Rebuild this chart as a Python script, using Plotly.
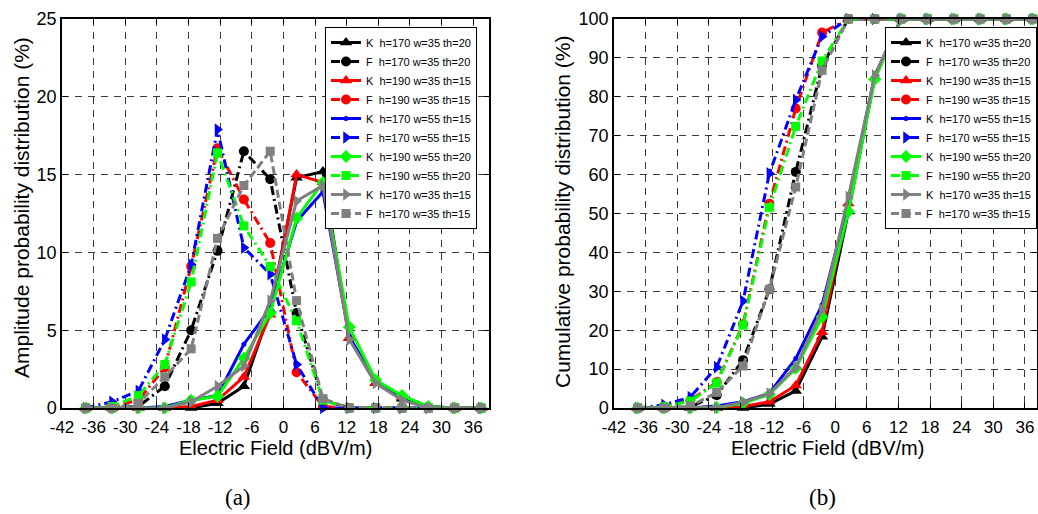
import plotly.graph_objects as go

# ---------------- data ----------------
field = [-37.5, -32.5, -27.5, -22.5, -17.5, -12.5, -7.5, -2.5,
         2.5, 7.5, 12.5, 17.5, 22.5, 27.5, 32.5, 37.5]

x_ticks = [-42, -36, -30, -24, -18, -12, -6, 0, 6, 12, 18, 24, 30, 36]
y_ticks_a = [0, 5, 10, 15, 20, 25]
y_ticks_b = [0, 10, 20, 30, 40, 50, 60, 70, 80, 90, 100]

names = ["K\u00a0\u00a0h=170 w=35 th=20", "F\u00a0\u00a0h=170 w=35 th=20",
         "K\u00a0\u00a0h=190 w=35 th=15", "F\u00a0\u00a0h=190 w=35 th=15",
         "K\u00a0\u00a0h=170 w=55 th=15", "F\u00a0\u00a0h=170 w=55 th=15",
         "K\u00a0\u00a0h=190 w=55 th=20", "F\u00a0\u00a0h=190 w=55 th=20",
         "K\u00a0\u00a0h=170 w=35 th=15", "F\u00a0\u00a0h=170 w=35 th=15"]

# (a) amplitude probability distribution (%)
apd_k_170_35_20 = [0, 0, 0, 0, 0, 0.3, 1.4, 6.3, 14.8, 15.2, 4.5, 1.6, 0.6, 0.05, 0, 0]
apd_f_170_35_20 = [0, 0, 0.1, 1.4, 5.0, 10.1, 16.5, 14.7, 6.1, 0.5, 0, 0, 0, 0, 0, 0]
apd_k_190_35_15 = [0, 0, 0, 0, 0.1, 0.5, 2.0, 6.0, 15.0, 14.5, 4.5, 1.6, 0.7, 0.1, 0, 0]
apd_f_190_35_15 = [0, 0.1, 0.5, 2.6, 9.1, 16.7, 13.4, 10.6, 2.3, 0.1, 0, 0, 0, 0, 0, 0]
apd_k_170_55_15 = [0, 0, 0, 0.1, 0.5, 0.8, 4.1, 6.4, 12.0, 13.9, 4.6, 1.7, 0.6, 0.1, 0, 0]
apd_f_170_55_15 = [0, 0.4, 1.1, 4.4, 9.2, 17.9, 10.3, 8.6, 2.8, 0, 0, 0, 0, 0, 0, 0]
apd_k_190_55_20 = [0, 0, 0, 0, 0.5, 0.75, 3.2, 6.1, 12.2, 14.5, 5.2, 1.8, 0.8, 0.1, 0, 0]
apd_f_190_55_20 = [0, 0.1, 0.8, 2.8, 8.1, 16.4, 11.7, 9.1, 5.6, 0.5, 0, 0, 0, 0, 0, 0]
apd_k_170_35_15 = [0, 0, 0, 0, 0.4, 1.4, 2.7, 6.9, 13.3, 14.3, 4.4, 1.6, 0.5, 0, 0, 0]
apd_f_170_35_15 = [0, 0, 0.3, 2.0, 3.8, 10.9, 14.3, 16.5, 6.9, 0.6, 0, 0, 0, 0, 0, 0]

# (b) cumulative probability distribution (%)
cpd_k_170_35_20 = [0, 0, 0, 0, 0, 1.0, 4.4, 18.3, 50.5, 85, 100, 100, 100, 100, 100, 100]
cpd_f_170_35_20 = [0, 0, 0.3, 3.3, 12.3, 30.5, 60.7, 88, 100, 100, 100, 100, 100, 100, 100, 100]
cpd_k_190_35_15 = [0, 0, 0, 0, 0.4, 1.6, 5.8, 19.5, 52.6, 85, 100, 100, 100, 100, 100, 100]
cpd_f_190_35_15 = [0, 0.3, 2.0, 6.6, 21.5, 52.5, 77, 96.5, 100, 100, 100, 100, 100, 100, 100, 100]
cpd_k_170_55_15 = [0, 0, 0, 0.5, 1.6, 3.8, 12.7, 26.5, 53, 85.5, 100, 100, 100, 100, 100, 100]
cpd_f_170_55_15 = [0, 0.8, 2.8, 10.5, 27.5, 60.3, 79.2, 95.5, 100, 100, 100, 100, 100, 100, 100, 100]
cpd_k_190_55_20 = [0, 0, 0, 0.1, 1.2, 3.5, 10.2, 23.4, 50.5, 84.5, 100, 100, 100, 100, 100, 100]
cpd_f_190_55_20 = [0, 0.3, 1.8, 6.4, 21.3, 51.5, 72.4, 89.2, 100, 100, 100, 100, 100, 100, 100, 100]
cpd_k_170_35_15 = [0, 0, 0, 0.1, 1.5, 3.7, 10.5, 25.3, 54.3, 85.5, 100, 100, 100, 100, 100, 100]
cpd_f_170_35_15 = [0, 0, 0.5, 4.0, 10.8, 30.5, 56.8, 86.8, 100, 100, 100, 100, 100, 100, 100, 100]

apd = [apd_k_170_35_20, apd_f_170_35_20, apd_k_190_35_15, apd_f_190_35_15,
       apd_k_170_55_15, apd_f_170_55_15, apd_k_190_55_20, apd_f_190_55_20,
       apd_k_170_35_15, apd_f_170_35_15]
cpd = [cpd_k_170_35_20, cpd_f_170_35_20, cpd_k_190_35_15, cpd_f_190_35_15,
       cpd_k_170_55_15, cpd_f_170_55_15, cpd_k_190_55_20, cpd_f_190_55_20,
       cpd_k_170_35_15, cpd_f_170_35_15]

# ---------------- styles ----------------
DD = "9px,4px,2px,4px"
styles = [
    dict(color="#000000", dash="solid", symbol="triangle-up", size=11),
    dict(color="#000000", dash=DD, symbol="circle", size=10),
    dict(color="#ff0000", dash="solid", symbol="triangle-up", size=11),
    dict(color="#ff0000", dash=DD, symbol="circle", size=10),
    dict(color="#0000ff", dash="solid", symbol="circle", size=5),
    dict(color="#0000ff", dash=DD, symbol="triangle-right", size=11),
    dict(color="#00ff00", dash="solid", symbol="diamond", size=10),
    dict(color="#00ff00", dash=DD, symbol="square", size=9),
    dict(color="#808080", dash="solid", symbol="triangle-right", size=11),
    dict(color="#808080", dash="8px,4px", symbol="square", size=9),
]

fig = go.Figure()
for i, st in enumerate(styles):
    fig.add_trace(go.Scatter(
        x=field, y=apd[i], name=names[i], mode="lines+markers",
        line=dict(color=st["color"], width=3, dash=st["dash"]),
        marker=dict(symbol=st["symbol"], size=st["size"], color=st["color"]),
        xaxis="x", yaxis="y", legend="legend", cliponaxis=False))
for i, st in enumerate(styles):
    fig.add_trace(go.Scatter(
        x=field, y=cpd[i], name=names[i], mode="lines+markers",
        line=dict(color=st["color"], width=3, dash=st["dash"]),
        marker=dict(symbol=st["symbol"], size=st["size"], color=st["color"]),
        xaxis="x2", yaxis="y2", legend="legend2", cliponaxis=False))

W, H = 1038, 514
PLOT_TOP, PLOT_BOT = 19, 408
T = PLOT_TOP
B = H - PLOT_BOT
PH = PLOT_BOT - PLOT_TOP

def px(v):
    return v / W

def py(v):
    return (PLOT_BOT - v) / PH

FONT = "Liberation Sans, Arial, sans-serif"
x_ticktext = [str(v) for v in x_ticks]

def axis(**kw):
    d = dict(
        showline=True, linecolor="black", linewidth=1.5, mirror="ticks",
        ticks="inside", ticklen=5, tickcolor="black",
        showgrid=True, gridcolor="#3a3a3a", gridwidth=1, griddash="7px,6px",
        zeroline=False, tickfont=dict(family=FONT, size=18, color="black"),
    )
    d.update(kw)
    return d

xfont = dict(family=FONT, size=17, color="black")

fig.update_layout(
    width=W, height=H,
    margin=dict(l=0, r=0, t=T, b=B, autoexpand=False),
    paper_bgcolor="white", plot_bgcolor="white",
    xaxis=axis(domain=[px(62), px(489)], range=[-42, 39], tickvals=x_ticks,
               ticktext=x_ticktext, anchor="y", tickfont=xfont, ticklabelstandoff=3),
    yaxis=axis(domain=[0, 1], range=[0, 25], tickvals=y_ticks_a, anchor="x"),
    xaxis2=axis(domain=[px(614), px(1037)], range=[-42, 38.3], tickvals=x_ticks,
                ticktext=x_ticktext, anchor="y2", tickfont=xfont, ticklabelstandoff=3),
    yaxis2=axis(domain=[0, 1], range=[0, 100], tickvals=y_ticks_b, anchor="x2"),
    legend=dict(x=px(325), y=py(27), xanchor="left", yanchor="top",
                bgcolor="white", bordercolor="black", borderwidth=1,
                font=dict(family=FONT, size=11, color="black")),
    legend2=dict(x=px(1037), y=py(27), xanchor="right", yanchor="top",
                 bgcolor="white", bordercolor="black", borderwidth=1,
                 font=dict(family=FONT, size=11, color="black")),
    showlegend=True,
)

ann = []
for cx in (275, 827):
    ann.append(dict(text="Electric Field (dBV/m)", x=px(cx), y=py(448), xref="paper", yref="paper",
                    showarrow=False, xanchor="center", yanchor="middle",
                    font=dict(family=FONT, size=20, color="black")))
ann.append(dict(text="Amplitude probability distribution (%)", x=px(21), y=py(208),
                xref="paper", yref="paper", showarrow=False, textangle=-90,
                xanchor="center", yanchor="middle",
                font=dict(family=FONT, size=21, color="black")))
ann.append(dict(text="Cumulative probability distribution (%)", x=px(562), y=py(212),
                xref="paper", yref="paper", showarrow=False, textangle=-90,
                xanchor="center", yanchor="middle",
                font=dict(family=FONT, size=21, color="black")))
ann.append(dict(text="(a)", x=px(238), y=py(497), xref="paper", yref="paper",
                showarrow=False, xanchor="center", yanchor="middle",
                font=dict(family="Liberation Serif, Times New Roman, serif", size=23, color="black")))
ann.append(dict(text="(b)", x=px(822), y=py(497), xref="paper", yref="paper",
                showarrow=False, xanchor="center", yanchor="middle",
                font=dict(family="Liberation Serif, Times New Roman, serif", size=23, color="black")))
fig.update_layout(annotations=ann)

# remove the page's default body margin so the figure fills the window exactly
fig.write_html("out.html",
               config={"displayModeBar": False},
               post_script="document.body.style.margin='0';document.body.style.overflow='hidden';")
